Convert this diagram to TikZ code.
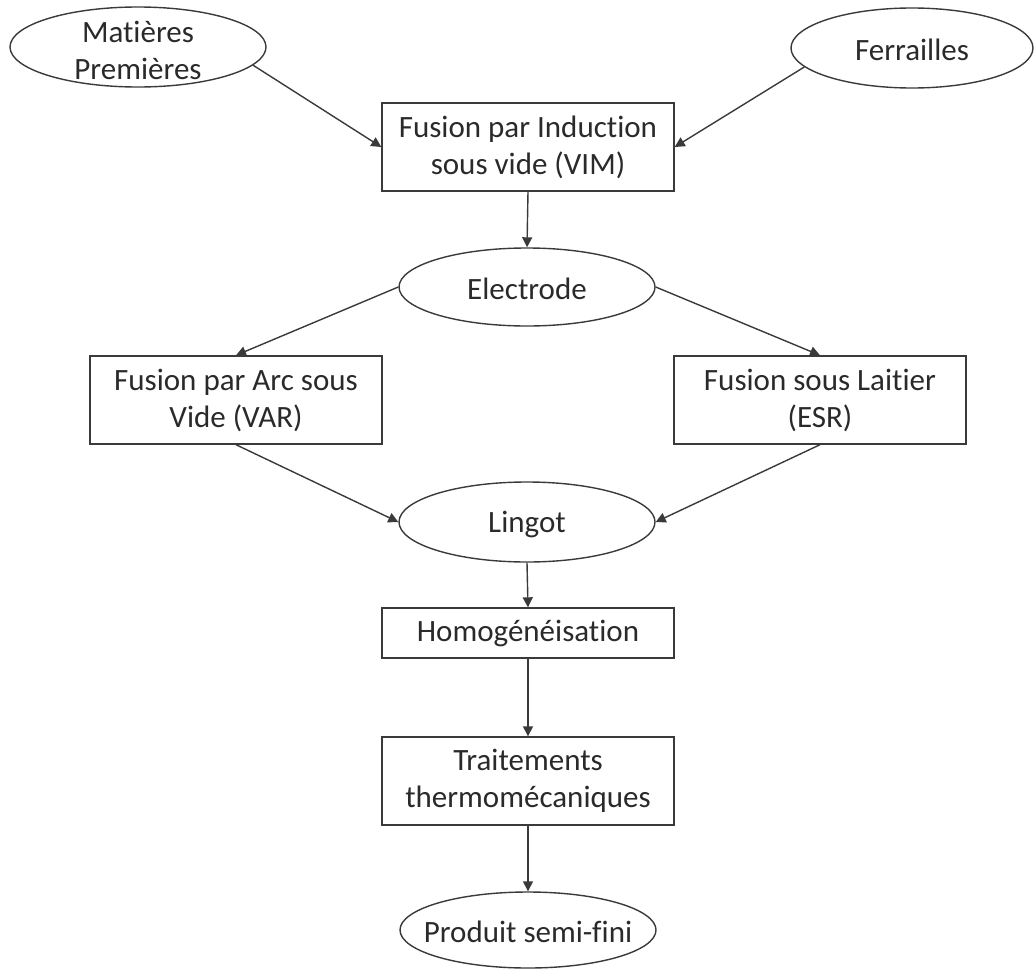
\documentclass[tikz,border=0pt]{standalone}
\usepackage{fontspec}
\setmainfont{Carlito}[Ligatures=NoCommon]
\usetikzlibrary{shapes.geometric,arrows.meta}
\definecolor{ln}{HTML}{3A3A3A}
\definecolor{tx}{HTML}{2A2A2A}
\tikzset{
  oval/.style={draw=ln,line width=1.4pt,ellipse,inner sep=0pt,minimum width=256pt,minimum height=80pt},
  lbl/.style={text=tx,align=center,font=\fontsize{31}{37}\selectfont,inner sep=0pt},
  pbox/.style={draw=ln,line width=1.4pt,rectangle,minimum width=292pt,minimum height=88pt,inner sep=0pt,text=tx,align=center,font=\fontsize{31}{37}\selectfont},
  arr/.style={draw=ln,line width=1.4pt,-{Triangle[length=10pt,width=10pt]}}
}
\begin{document}
\begin{tikzpicture}[x=1pt,y=-1pt]
\useasboundingbox (0,0) rectangle (1035,969);
% ellipses
\node[oval] (mp) at (138,47) {};
\node[lbl] at (138,50) {Matières\\Premières};
\node[oval,minimum width=242pt] (fe) at (912,48) {};
\node[lbl] at (912,50) {Ferrailles};
\node[oval,minimum height=78pt] (el) at (527,287) {};
\node[lbl] at (527,289) {Electrode};
\node[oval] (li) at (527,522) {};
\node[lbl] at (527,524) {Lingot};
\node[oval,minimum height=76pt] (pr) at (528,930) {};
\node[lbl] at (528,932) {Produit semi-fini};
% boxes
\node[pbox] (vim) at (528,147) {Fusion par Induction\\sous vide (VIM)};
\node[pbox] (var) at (236,400) {Fusion par Arc sous\\Vide (VAR)};
\node[pbox] (esr) at (820,400) {Fusion sous Laitier\\(ESR)};
\node[pbox,minimum height=50pt] (hom) at (528,633) {Homogénéisation};
\node[pbox] (tr) at (528,781) {Traitements\\thermomécaniques};
% connectors
\draw[arr] (mp.-9) -- (vim.west);
\draw[arr] (fe.190) -- (vim.east);
\draw[arr] (vim.south) -- (el.north);
\draw[arr] (el.west) -- (var.north);
\draw[arr] (el.east) -- (esr.north);
\draw[arr] (var.south) -- (li.west);
\draw[arr] (esr.south) -- (li.east);
\draw[arr] (li.south) -- (hom.north);
\draw[arr] (hom.south) -- (tr.north);
\draw[arr] (tr.south) -- (pr.north);
\end{tikzpicture}
\end{document}
